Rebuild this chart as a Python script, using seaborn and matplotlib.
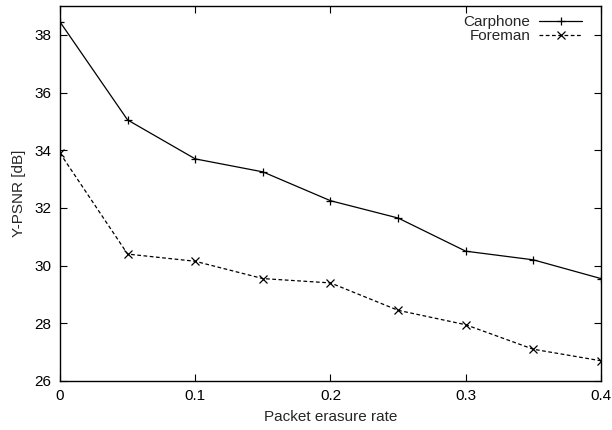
import pandas as pd
import matplotlib
matplotlib.use("Agg")
import matplotlib.pyplot as plt
import seaborn as sns

# erasure rates and Y-PSNR values
rate = [0.0, 0.05, 0.1, 0.15, 0.2, 0.25, 0.3, 0.35, 0.4]
carphone = [38.45, 35.05, 33.7, 33.25, 32.25, 31.65, 30.5, 30.2, 29.55]
foreman = [33.9, 30.4, 30.15, 29.55, 29.4, 28.45, 27.95, 27.1, 26.7]
series = ["Carphone", "Foreman"]

df = pd.DataFrame({
    "rate": rate * 2,
    "psnr": carphone + foreman,
    "video": [series[0]] * len(rate) + [series[1]] * len(rate),
})

sns.set_style("ticks")
plt.rcParams["font.family"] = ["Liberation Sans", "DejaVu Sans"]

fig, ax = plt.subplots(figsize=(6.12, 4.30), dpi=100)
sns.lineplot(data=df, x="rate", y="psnr", hue="video", style="video",
             palette=["black", "black"], markers=["+", "x"],
             dashes=[(None, None), (3, 2)], linewidth=0.9,
             markersize=6, markeredgewidth=0.9, markeredgecolor="black",
             ax=ax)

ax.set_xlim(0, 0.4)
ax.set_ylim(26, 39)
ax.set_xticks([0, 0.1, 0.2, 0.3, 0.4])
ax.set_xticklabels(["0", "0.1", "0.2", "0.3", "0.4"])
ax.set_yticks(range(26, 39, 2))
ax.set_xlabel("Packet erasure rate", fontsize=11, labelpad=5)
ax.set_ylabel("Y-PSNR [dB]", fontsize=11, labelpad=6)
ax.tick_params(direction="in", length=5, width=0.8, labelsize=11,
               top=True, right=True, colors="black", pad=6)
for s in ax.spines.values():
    s.set_visible(True)
    s.set_linewidth(1.0)
    s.set_color("black")

ax.legend(loc="upper right", bbox_to_anchor=(0.982, 1.0), frameon=False,
          markerfirst=False, fontsize=11, handlelength=2.8,
          labelspacing=0.0, borderaxespad=0.2, handletextpad=0.6,
          title=None)

fig.subplots_adjust(left=0.098, right=0.982, bottom=0.114, top=0.986)
fig.savefig("out.png", dpi=100)
